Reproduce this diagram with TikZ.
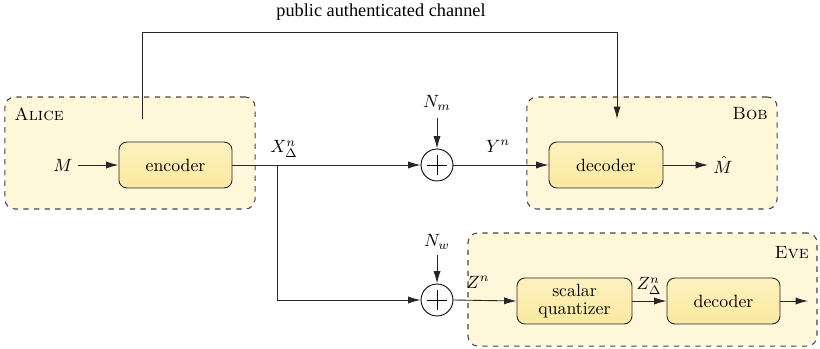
\documentclass[tikz,border=0pt]{standalone}
\usepackage{fontspec}
\newfontfamily\timesfont{Liberation Serif}
\usetikzlibrary{arrows.meta,calc}
\definecolor{outerfill}{RGB}{255,247,218}
\definecolor{innertop}{RGB}{253,242,190}
\definecolor{innerbot}{RGB}{251,233,160}
\definecolor{dashcol}{RGB}{70,70,70}
\tikzset{
  outerbox/.style={draw=dashcol, dashed, fill=outerfill, rounded corners=5.5pt, line width=0.6pt, inner sep=0pt},
  blockbox/.style={draw=black!85, top color=innertop, bottom color=innerbot, rounded corners=4.5pt, line width=0.5pt, minimum height=25.9pt, align=center, inner sep=1pt, font=\normalsize},
  adder/.style={draw, circle, minimum size=18pt, inner sep=0pt, line width=0.5pt},
  conn/.style={line width=0.5pt, draw=black!85},
  arr/.style={conn, -{Latex[length=7pt,width=4pt]}},
  lbl/.style={inner sep=0pt}
}
\begin{document}
\begin{tikzpicture}[x=0.5634pt,y=-0.5634pt]
\useasboundingbox (0,0) rectangle (820,349);
% outer boxes
\node[outerbox, minimum width=140.9pt, minimum height=63.1pt] (alice) at (130,153) {};
\node[outerbox, minimum width=140.9pt, minimum height=63.1pt] (bob) at (652,153) {};
\node[outerbox, minimum width=196.6pt, minimum height=63.7pt] (eve) at (642.5,289.5) {};
\node[lbl, anchor=west] (alicel) at (14,114) {\textsc{Alice}};
\node[lbl, anchor=east] (bobl) at (768,114) {\textsc{Bob}};
\node[lbl, anchor=east] (evel) at (809,253) {\textsc{Eve}};
% blocks
\node[blockbox, minimum width=63.7pt] (enc) at (175.5,165) {encoder};
\node[blockbox, minimum width=64.2pt] (decb) at (606,165) {decoder};
\node[blockbox, minimum width=64.8pt] (quant) at (574.5,301) {scalar\\[-2pt]quantizer};
\node[blockbox, minimum width=63.7pt] (dece) at (723.5,301) {decoder};
% adders
\node[adder] (addm) at (437,165) {};
\draw[line width=0.5pt] ($(addm.north)!0.2!(addm.south)$) -- ($(addm.north)!0.8!(addm.south)$);
\draw[line width=0.5pt] ($(addm.west)!0.2!(addm.east)$) -- ($(addm.west)!0.8!(addm.east)$);
\node[adder] (addw) at (437,300) {};
\draw[line width=0.5pt] ($(addw.north)!0.2!(addw.south)$) -- ($(addw.north)!0.8!(addw.south)$);
\draw[line width=0.5pt] ($(addw.west)!0.2!(addw.east)$) -- ($(addw.west)!0.8!(addw.east)$);
% labels
\node[lbl] (m) at (63,165) {$M$};
\node[lbl, anchor=west] (mhat) at (713,165) {$\hat{M}$};
\node[lbl] (nm) at (437,103) {$N_m$};
\node[lbl] (nw) at (437,242) {$N_w$};
\node[lbl] (xd) at (284,149) {$X_\Delta^n$};
\node[lbl] (yn) at (498,146) {$Y^n$};
\node[lbl] (zn) at (478,282) {$Z^n$};
\node[lbl] (zd) at (649,286) {$Z_\Delta^n$};
\node[lbl] (pub) at (381,12) {\timesfont\fontsize{10.3}{12}\selectfont public authenticated channel};
% coordinates
\coordinate (br) at (277,165);
\coordinate (chs) at (142,119);
\coordinate (che) at (617,119);
\coordinate (mhend) at (708,165);
\coordinate (eveout) at (808,301);
% connectors
\draw[arr] ($(m.east)+(5,0)$) -- (enc.west);
\draw[arr] (enc.east) -- (addm.west);
\draw[arr] (br) |- (addw.west);
\draw[arr] (addm.east) -- (decb.west);
\draw[arr] (decb.east) -- (mhend);
\draw[arr] (addw.east) -- (quant.west);
\draw[arr] (quant.east) -- (dece.west);
\draw[arr] (dece.east) -- (eveout);
\draw[arr] ($(nm.south)+(0,7)$) -- (addm.north);
\draw[arr] ($(nw.south)+(0,5)$) -- (addw.north);
\draw[arr] (chs) -- (142,32) -| (che);
\end{tikzpicture}
\end{document}
